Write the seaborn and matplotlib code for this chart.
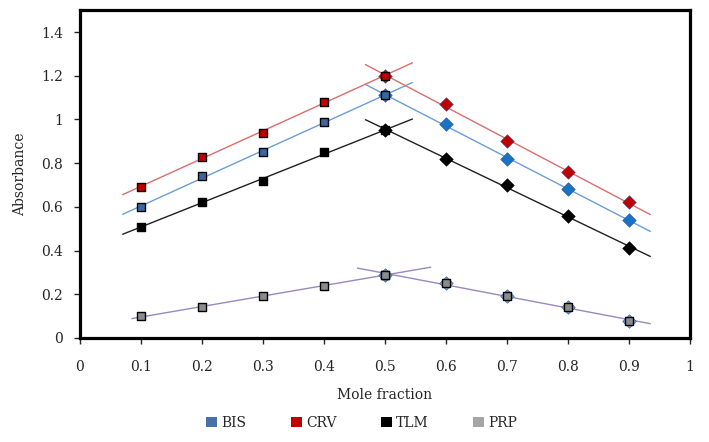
import numpy as np
import pandas as pd
import matplotlib
matplotlib.use('Agg')
import matplotlib.pyplot as plt
import seaborn as sns
from matplotlib.patches import Patch

# data
mole_frac = [0.1, 0.2, 0.3, 0.4, 0.5, 0.6, 0.7, 0.8, 0.9]
bis = [0.60, 0.74, 0.85, 0.99, 1.11, 0.98, 0.82, 0.68, 0.54]
crv = [0.69, 0.83, 0.94, 1.08, 1.20, 1.07, 0.90, 0.76, 0.62]
tlm = [0.51, 0.62, 0.72, 0.85, 0.95, 0.82, 0.70, 0.56, 0.41]
prp = [0.10, 0.14, 0.19, 0.24, 0.29, 0.25, 0.19, 0.14, 0.08]
names = ['BIS', 'CRV', 'TLM', 'PRP']

sns.set_style('white')
plt.rcParams['font.family'] = ['DejaVu Serif']

# colours: square marker, diamond marker, trend line, legend patch
styles = {
    'BIS': ('#3C679E', '#1873C4', '#6A9ED6', '#4A70A8'),
    'CRV': ('#C00000', '#C00000', '#DA6E6E', '#C00000'),
    'TLM': ('#000000', '#000000', '#202020', '#000000'),
    'PRP': ('#8C8C8C', '#6FA3D8', '#9A88BE', '#A6A6A6'),
}
series = {'BIS': bis, 'CRV': crv, 'TLM': tlm, 'PRP': prp}

df = pd.DataFrame({'x': mole_frac, **series})

fig = plt.figure(figsize=(7.09, 4.42), dpi=100)
ax = fig.add_axes([0.1128, 0.2353, 0.8604, 0.7417])

for name in names:
    sq_col, dm_col, ln_col, _ = styles[name]
    left = df[df['x'] <= 0.5]
    right = df[df['x'] >= 0.5]

    # linear trend lines, extended a bit like the excel trendlines
    if name == 'PRP':
        lx = np.array([0.085, 0.575])
        rx = np.array([0.455, 0.935])
    else:
        lx = np.array([0.07, 0.545])
        rx = np.array([0.468, 0.935])
    pl = np.polyfit(left['x'], left[name], 1)
    pr = np.polyfit(right['x'], right[name], 1)
    sns.lineplot(x=lx, y=np.polyval(pl, lx), ax=ax, color=ln_col, lw=1.0, zorder=2)
    sns.lineplot(x=rx, y=np.polyval(pr, rx), ax=ax, color=ln_col, lw=1.0, zorder=2)

    sns.scatterplot(x=right['x'], y=right[name], ax=ax, marker='D', s=48,
                    color=dm_col, edgecolor='#2F5597' if name != 'TLM' else 'black',
                    linewidth=0.4, zorder=3)
    sns.scatterplot(x=left['x'], y=left[name], ax=ax, marker='s', s=36,
                    color=sq_col, edgecolor='black', linewidth=1.0, zorder=4)

# PRP right side squares sit on top of the diamonds
prp_right = df[df['x'] >= 0.5]
sns.scatterplot(x=prp_right['x'], y=prp_right['PRP'], ax=ax, marker='s', s=36,
                color='#8C8C8C', edgecolor='black', linewidth=1.0, zorder=5)

ax.set_xlim(0, 1)
ax.set_ylim(0, 1.5)
ax.set_xticks(np.arange(0, 1.01, 0.1))
ax.set_xticklabels(['0', '0.1', '0.2', '0.3', '0.4', '0.5', '0.6', '0.7', '0.8', '0.9', '1'])
ax.set_yticks(np.arange(0, 1.41, 0.2))
ax.set_yticklabels(['0', '0.2', '0.4', '0.6', '0.8', '1', '1.2', '1.4'])
ax.tick_params(axis='x', direction='out', length=4, width=1, pad=12, labelsize=10)
ax.tick_params(axis='y', direction='out', length=4, width=1, pad=8, labelsize=10)
ax.tick_params(bottom=True, left=True)
for sp in ax.spines.values():
    sp.set_visible(True)
    sp.set_linewidth(2.3)
    sp.set_color('black')

ax.set_xlabel('Mole fraction', fontsize=10, labelpad=10)
ax.set_ylabel('Absorbance', fontsize=10, labelpad=10)

handles = [Patch(facecolor=styles[n][3], edgecolor='none', label=n) for n in names]
fig.legend(handles=handles, loc='center', bbox_to_anchor=(0.51, 0.043), ncol=4,
           frameon=False, fontsize=10, handlelength=0.8, handleheight=0.8,
           handletextpad=0.3, columnspacing=3.2)

fig.savefig('out.png', dpi=100)
